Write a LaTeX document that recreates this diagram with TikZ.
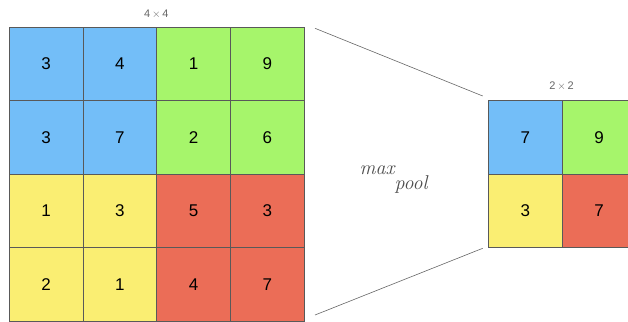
\documentclass[tikz,border=0pt]{standalone}
\usepackage{fontspec}
\setsansfont{Liberation Sans}
\begin{document}
\begin{tikzpicture}[x=1pt,y=-1pt,
  cell/.style={draw=black!65,line width=0.6pt,minimum width=73.7pt,minimum height=73.4pt,inner sep=0pt,anchor=north west,font=\sffamily\fontsize{17}{17}\selectfont},
  bl/.style={cell,fill=blueC},
  gr/.style={cell,fill=greenC},
  ye/.style={cell,fill=yellowC},
  re/.style={cell,fill=redC},
  dim/.style={font=\sffamily\fontsize{11}{11}\selectfont,text=black!60},
  conn/.style={draw=black!60,line width=0.6pt}]
\definecolor{blueC}{HTML}{73BEF8}
\definecolor{greenC}{HTML}{A6F56B}
\definecolor{yellowC}{HTML}{FAEE72}
\definecolor{redC}{HTML}{EB6D57}
\useasboundingbox (0,0) rectangle (628,321);
\clip (0,0) rectangle (628,321);
% big grid
\node[bl] (a11) at (9,27) {3};
\node[bl] (a12) at (82.7,27) {4};
\node[gr] (a13) at (156.4,27) {1};
\node[gr] (a14) at (230.1,27) {9};
\node[bl] (a21) at (9,100.4) {3};
\node[bl] (a22) at (82.7,100.4) {7};
\node[gr] (a23) at (156.4,100.4) {2};
\node[gr] (a24) at (230.1,100.4) {6};
\node[ye] (a31) at (9,173.8) {1};
\node[ye] (a32) at (82.7,173.8) {3};
\node[re] (a33) at (156.4,173.8) {5};
\node[re] (a34) at (230.1,173.8) {3};
\node[ye] (a41) at (9,247.2) {2};
\node[ye] (a42) at (82.7,247.2) {1};
\node[re] (a43) at (156.4,247.2) {4};
\node[re] (a44) at (230.1,247.2) {7};
\node[dim] (lab4) at (156.4,14) {4\,$\times$\,4};
% small grid
\node[bl] (b11) at (488.3,100.4) {7};
\node[gr] (b12) at (562,100.4) {9};
\node[ye] (b21) at (488.3,173.8) {3};
\node[re] (b22) at (562,173.8) {7};
\node[dim] (lab2) at (561.5,86) {2\,$\times$\,2};
% connectors
\coordinate (t1) at (315,28.3);
\coordinate (t2) at (482.7,96);
\coordinate (u1) at (315,315);
\coordinate (u2) at (482.7,248.3);
\draw[conn] (t1) -- (t2);
\draw[conn] (u1) -- (u2);
% label
\node[text=black!70,font=\fontsize{20}{20}\selectfont] (mx) at (377,170) {\itshape max};
\node[text=black!70,font=\fontsize{20}{20}\selectfont] (pl) at (411,184.5) {\itshape pool};
\end{tikzpicture}
\end{document}
